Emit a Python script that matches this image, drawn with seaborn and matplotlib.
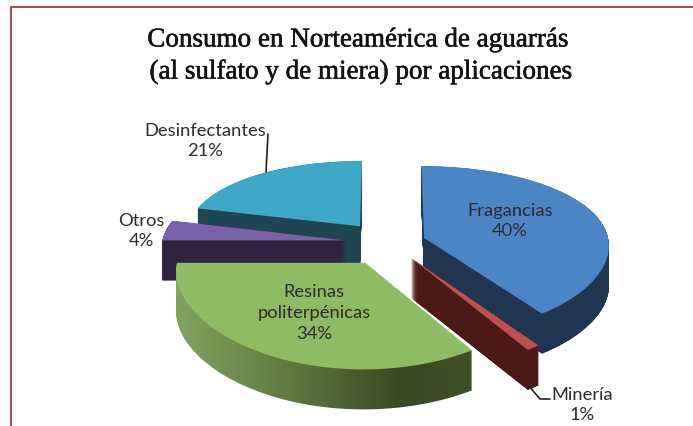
import numpy as np
import matplotlib
matplotlib.use("Agg")
import matplotlib.pyplot as plt
import matplotlib.patheffects as pe
from matplotlib.transforms import Transform
from matplotlib.colors import LinearSegmentedColormap
import seaborn as sns

categories = ["Fragancias", "Minería", "Resinas\npoliterpénicas", "Otros", "Desinfectantes"]
shares = [40, 1, 34, 4, 21]
title_lines = ["Consumo en Norteamérica de aguarrás", "(al sulfato y de miera) por aplicaciones"]

explode = [0.20, 0.21, 0.26, 0.24, 0.26]
radii = [1.0, 1.06, 1.0, 0.99, 0.94]
top_colors = sns.color_palette(["#4b85c5", "#bf5050", "#8fbb64", "#7a62a8", "#3ea8c6"])
side_colors = sns.color_palette(["#203552", "#4b1a16", "#5f7a40", "#33223f", "#1f4452"])
draw_order = [4, 3, 0, 2, 1]
label_pos = [(510, 221), (582, 405), (314, 313), (141, 231), (205, 141)]
leaders = [((268, 135), (266, 173)), ((528, 386), (540, 400), (550, 400))]

sns.set_theme(style="white")
plt.rcParams["font.family"] = ["Lato", "DejaVu Sans"]

W, H = 693, 427
CX, CY, SX, SY, KX, KY, DEPTH = 389, 244, 185, 84, 0.08, 0.15, 40
STEP = 0.25


class Perspective(Transform):
    input_dims = output_dims = 2
    is_separable = False
    has_inverse = False

    def __init__(self, drop=0):
        super().__init__()
        self.drop = drop

    def transform_non_affine(self, values):
        values = np.asarray(values, dtype=float)
        return np.column_stack([CX + SX * values[:, 0] / (1 + KX * values[:, 1]),
                                CY - SY * values[:, 1] / (1 + KY * values[:, 1]) + self.drop])


fig = plt.figure(figsize=(W / 100, H / 100), dpi=100, facecolor="white")
ax = fig.add_axes([0, 0, 1, 1])
green_side = LinearSegmentedColormap.from_list("g", ["#85a662", "#6c8a4c", "#546c39", "#3a4a20", "#3f5026"])
gradient = np.linspace(0, 1, 256).reshape(1, -1)

for drop in np.arange(DEPTH, -STEP, -STEP):
    colors = top_colors if drop == 0 else side_colors
    wedges, _ = ax.pie(shares, explode=explode, startangle=90, counterclock=False,
                       colors=colors, wedgeprops={"linewidth": 0})
    for i, w in enumerate(wedges):
        w.set_radius(radii[i])
        w.set_transform(Perspective(drop) + ax.transData)
        w.set_zorder(10 * draw_order.index(i) + 5 + (DEPTH - drop) / 100)
        w.set_clip_on(False)
        if drop > 0 and i == 2:
            w.set_facecolor("none")
            if float(drop).is_integer():
                im = ax.imshow(gradient, extent=(170, 475, 420, 250), cmap=green_side,
                               aspect="auto", zorder=w.get_zorder())
                im.set_clip_path(w)

ax.set_aspect("auto")
ax.set_xlim(0, W)
ax.set_ylim(H, 0)
ax.axis("off")

ax.plot([11, 11, W], [H, 8, 8], color="#a8383c", lw=1.3, zorder=1, solid_joinstyle="miter")
for i, (x, y) in enumerate(label_pos):
    ax.text(x, y, f"{categories[i]}\n{shares[i]}%", ha="center", va="center", fontsize=13.2,
            color="#2b2b2b", linespacing=1.38, zorder=100)
for pts in leaders:
    xs, ys = zip(*pts)
    ax.plot(xs, ys, color="#222222", lw=1.2, zorder=90)
for (x, y), line in zip(((358, 41), (361, 73)), title_lines):
    ax.text(x, y, line, ha="center", va="center", fontsize=19.5,
            family="Liberation Serif", color="#111111", zorder=100,
            path_effects=[pe.withStroke(linewidth=0.4, foreground="#111111")])

fig.savefig("out.png", dpi=100)
